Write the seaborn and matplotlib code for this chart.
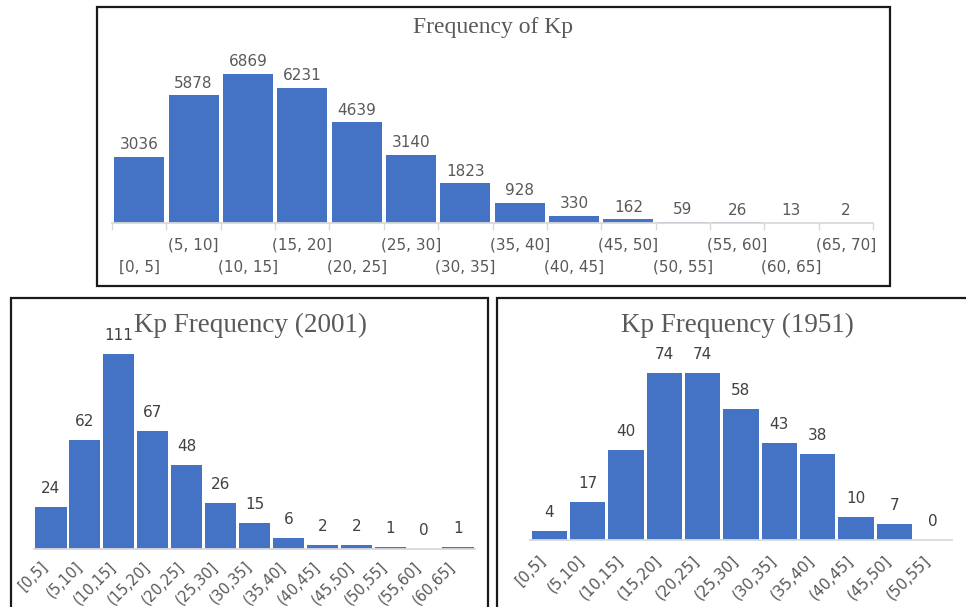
import numpy as np
import matplotlib
matplotlib.use("Agg")
import matplotlib.pyplot as plt
from matplotlib.patches import Rectangle
import seaborn as sns

# Overall Kp distribution
all_bins = ["[0, 5]", "(5, 10]", "(10, 15]", "(15, 20]", "(20, 25]", "(25, 30]",
            "(30, 35]", "(35, 40]", "(40, 45]", "(45, 50]", "(50, 55]", "(55, 60]",
            "(60, 65]", "(65, 70]"]
all_counts = [3036, 5878, 6869, 6231, 4639, 3140, 1823, 928, 330, 162, 59, 26, 13, 2]

# Year 2001
bins_2001 = ["[0,5]", "(5,10]", "(10,15]", "(15,20]", "(20,25]", "(25,30]", "(30,35]",
             "(35,40]", "(40,45]", "(45,50]", "(50,55]", "(55,60]", "(60,65]"]
counts_2001 = [24, 62, 111, 67, 48, 26, 15, 6, 2, 2, 1, 0, 1]

# Year 1951
bins_1951 = ["[0,5]", "(5,10]", "(10,15]", "(15,20]", "(20,25]", "(25,30]", "(30,35]",
             "(35,40]", "(40,45]", "(45,50]", "(50,55]"]
counts_1951 = [4, 17, 40, 74, 74, 58, 43, 38, 10, 7, 0]

BLUE = "#4472C4"
GRID = "#D9D9D9"
TXT = "#595959"
VAL = "#404040"

W, H = 966, 607
sns.set_theme(style="white")
plt.rcParams["font.family"] = ["DejaVu Sans"]
fig = plt.figure(figsize=(W / 100, H / 100), dpi=100)


def px_axes(left, top, right, bottom):
    return fig.add_axes([left / W, 1 - bottom / H, (right - left) / W, (bottom - top) / H])


def frame(left, top, right, bottom):
    fig.add_artist(Rectangle((left / W, 1 - bottom / H), (right - left) / W, (bottom - top) / H,
                             transform=fig.transFigure, fill=False, edgecolor="#1a1a1a",
                             linewidth=1.6, zorder=10))


def draw_bars(ax, cats, vals, ymax, pad):
    sns.barplot(x=cats, y=vals, color=BLUE, saturation=1, width=0.92,
                linewidth=0, ax=ax)
    ax.set_xlim(-0.5, len(cats) - 0.5)
    ax.set_ylim(0, ymax)
    ax.set_yticks([])
    for s in ["top", "left", "right"]:
        ax.spines[s].set_visible(False)
    ax.spines["bottom"].set_color(GRID)
    ax.spines["bottom"].set_linewidth(1.3)
    ax.bar_label(ax.containers[0], labels=[str(v) for v in vals], padding=pad,
                 fontsize=11, color=VAL if pad > 5 else TXT)
    ax.set_xlabel("")
    ax.set_ylabel("")


# ---- top: all years ----
frame(97, 7, 890, 286)
ax1 = px_axes(112, 55, 873, 223)
draw_bars(ax1, all_bins, all_counts, 6869 * 168 / 149, 3.5)
ax1.set_xticks(np.arange(-0.5, len(all_bins), 1), minor=True)
ax1.set_xticks(np.arange(len(all_bins)))
ax1.set_xticklabels([])
ax1.tick_params(axis="x", which="major", length=0)
ax1.tick_params(axis="x", which="minor", length=5, width=1, color=GRID, bottom=True)
for i, lab in enumerate(all_bins):
    dy = -22 if i % 2 else -44
    ax1.annotate(lab, xy=(i, 0), xycoords=("data", "axes fraction"),
                 xytext=(0, dy), textcoords="offset pixels",
                 ha="center", va="center", fontsize=11, color=TXT)
fig.text(493 / W, 1 - 28 / H, "Frequency of Kp", ha="center", va="center",
         fontsize=17, color=TXT, family="Liberation Serif")

# ---- bottom left: 2001 ----
frame(11, 298, 488, 640)
ax2 = px_axes(34, 340, 475, 549)
draw_bars(ax2, bins_2001, counts_2001, 111 * 209 / 195, 8)
ax2.tick_params(axis="x", length=0, pad=7)
ax2.set_xticks(np.arange(len(bins_2001)))
ax2.set_xticklabels(bins_2001, rotation=45, ha="right", fontsize=10.5, color=TXT)
fig.text(250 / W, 1 - 325 / H, "Kp Frequency (2001)", ha="center", va="center",
         fontsize=19.5, color=TXT, family="Liberation Serif")

# ---- bottom right: 1951 ----
frame(497, 298, 980, 640)
ax3 = px_axes(530, 350, 952, 540)
draw_bars(ax3, bins_1951, counts_1951, 74 * 190 / 167, 8)
ax3.tick_params(axis="x", length=0, pad=9)
ax3.set_xticks(np.arange(len(bins_1951)))
ax3.set_xticklabels(bins_1951, rotation=45, ha="right", fontsize=11, color=TXT)
fig.text(737 / W, 1 - 325 / H, "Kp Frequency (1951)", ha="center", va="center",
         fontsize=19.5, color=TXT, family="Liberation Serif")

fig.savefig("out.png", dpi=100, facecolor="white")
